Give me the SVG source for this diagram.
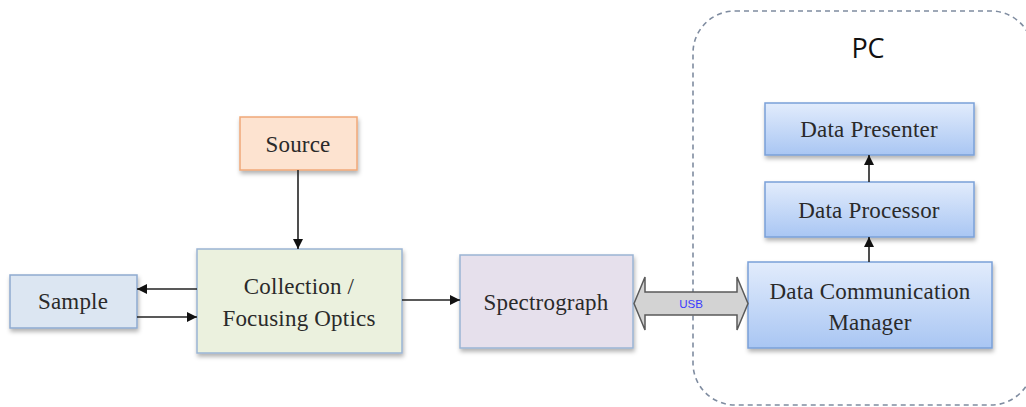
<svg xmlns="http://www.w3.org/2000/svg" width="1026" height="407" viewBox="0 0 1026 407">
<style>
.lbl{font-family:"Liberation Serif","DejaVu Serif",serif;font-size:23px;fill:#2a2a2a;text-anchor:middle;letter-spacing:0.2px}
.box{stroke-width:1.5}
.conn{stroke:#222;stroke-width:1.6;fill:none}
</style>
<defs>
<marker id="ah" viewBox="0 0 10 10" refX="10" refY="5" markerWidth="10" markerHeight="10" markerUnits="userSpaceOnUse" orient="auto">
<path d="M0,0 L10,5 L0,10 z" fill="#111"/>
</marker>
<linearGradient id="pcg" x1="0" y1="0" x2="0" y2="1">
<stop offset="0" stop-color="#e2ecfc"/>
<stop offset="1" stop-color="#a9c6f3"/>
</linearGradient>
<filter id="sh" x="-10%" y="-10%" width="130%" height="140%">
<feDropShadow dx="1" dy="3" stdDeviation="2" flood-color="#000" flood-opacity="0.3"/>
</filter>
</defs>
<rect x="0" y="0" width="1026" height="407" fill="#fff"/>
<g id="pc">
<rect x="693" y="11" width="340" height="394" rx="42" fill="none" stroke="#7f8ca0" stroke-width="1.6" stroke-dasharray="5,4"/>
<text x="868" y="58" font-family="'Open Sans','Liberation Sans',sans-serif" font-size="27" fill="#111" text-anchor="middle">PC</text>
</g>
<g id="sample">
<rect class="box" x="10" y="275" width="127" height="53" fill="#dce6f2" stroke="#8eaad0" filter="url(#sh)"/>
<text class="lbl" x="73" y="309">Sample</text>
</g>
<g id="source">
<rect class="box" x="240" y="117" width="117" height="53" fill="#fde3d0" stroke="#f0a878" filter="url(#sh)"/>
<text class="lbl" x="298" y="152">Source</text>
</g>
<g id="collection">
<rect class="box" x="197" y="249" width="205" height="104" fill="#ebf1de" stroke="#9ab4d4" filter="url(#sh)"/>
<text class="lbl" x="299" y="294">Collection /</text>
<text class="lbl" x="299" y="326">Focusing Optics</text>
</g>
<g id="spectrograph">
<rect class="box" x="460" y="255" width="173" height="93" fill="#e6e0ec" stroke="#9ab4d4" filter="url(#sh)"/>
<text class="lbl" x="546" y="310">Spectrograph</text>
</g>
<g id="presenter">
<rect class="box" x="765" y="103" width="209" height="52" fill="url(#pcg)" stroke="#7aa0d8" filter="url(#sh)"/>
<text class="lbl" x="869" y="137">Data Presenter</text>
</g>
<g id="processor">
<rect class="box" x="765" y="182" width="209" height="55" fill="url(#pcg)" stroke="#7aa0d8" filter="url(#sh)"/>
<text class="lbl" x="869" y="218">Data Processor</text>
</g>
<g id="dcm">
<rect class="box" x="748" y="262" width="244" height="86" fill="url(#pcg)" stroke="#7aa0d8" filter="url(#sh)"/>
<text class="lbl" x="870" y="299">Data Communication</text>
<text class="lbl" x="870" y="330">Manager</text>
</g>
<g id="connectors">
<line class="conn" x1="298" y1="170" x2="298" y2="249" marker-end="url(#ah)"/>
<line class="conn" x1="197" y1="289" x2="137" y2="289" marker-end="url(#ah)"/>
<line class="conn" x1="137" y1="317" x2="197" y2="317" marker-end="url(#ah)"/>
<line class="conn" x1="402" y1="300" x2="460" y2="300" marker-end="url(#ah)"/>
<line class="conn" x1="869" y1="182" x2="869" y2="155" marker-end="url(#ah)"/>
<line class="conn" x1="869" y1="262" x2="869" y2="237" marker-end="url(#ah)"/>
<path d="M634,303.5 L645,277 L645,292 L737,292 L737,277 L748,303.5 L737,330 L737,315 L645,315 L645,330 Z" fill="#d3d3d3" stroke="#5a5a5a" stroke-width="1.5"/>
<text x="691" y="308" font-family="'Liberation Sans',sans-serif" font-size="11.5" fill="#3a3aff" text-anchor="middle">USB</text>
</g>
</svg>
